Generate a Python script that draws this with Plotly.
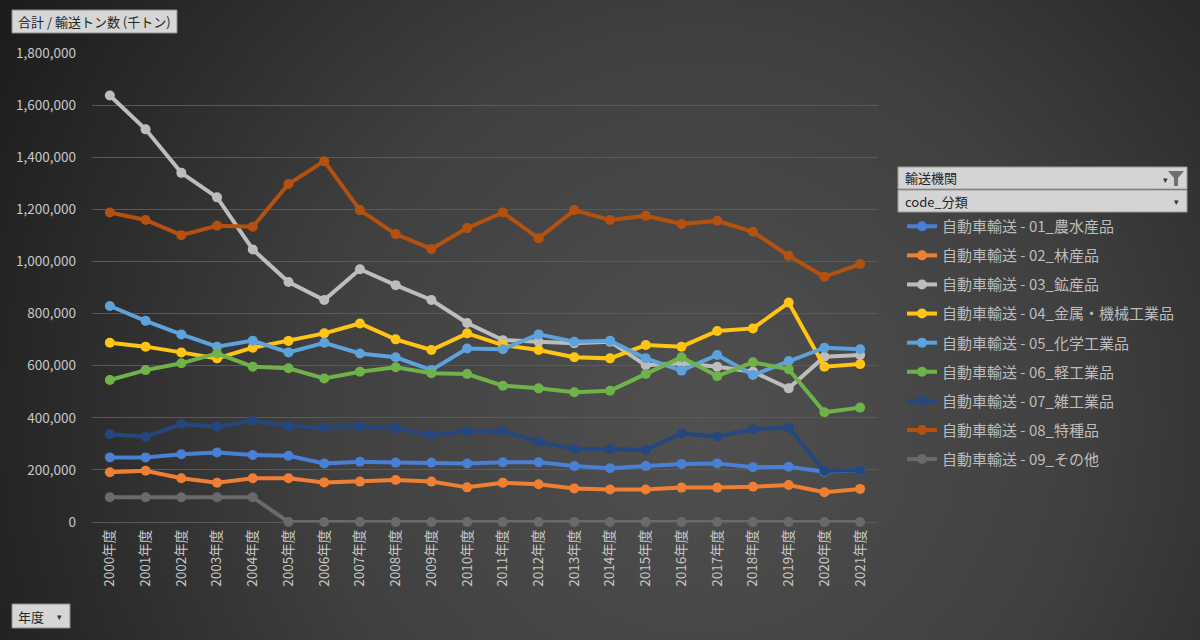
import base64
import plotly.graph_objects as go

# ---------------- data ----------------
years = ["2000年度", "2001年度", "2002年度", "2003年度", "2004年度", "2005年度",
         "2006年度", "2007年度", "2008年度", "2009年度", "2010年度", "2011年度",
         "2012年度", "2013年度", "2014年度", "2015年度", "2016年度", "2017年度",
         "2018年度", "2019年度", "2020年度", "2021年度"]

names = ["自動車輸送 - 01_農水産品", "自動車輸送 - 02_林産品", "自動車輸送 - 03_鉱産品",
         "自動車輸送 - 04_金属・機械工業品", "自動車輸送 - 05_化学工業品",
         "自動車輸送 - 06_軽工業品", "自動車輸送 - 07_雑工業品",
         "自動車輸送 - 08_特種品", "自動車輸送 - 09_その他"]

s01 = [248000, 248000, 260000, 267000, 257000, 254000, 225000, 231000, 228000, 228000, 225000,
       229000, 229000, 215000, 206000, 215000, 223000, 225000, 210000, 212000, 193000, 200000]
s02 = [191000, 197000, 168000, 151000, 168000, 168000, 152000, 155000, 161000, 155000, 133000,
       151000, 145000, 129000, 125000, 125000, 132000, 132000, 135000, 142000, 114000, 127000]
s03 = [1637000, 1507000, 1340000, 1246000, 1046000, 921000, 852000, 970000, 909000, 852000, 764000,
       698000, 692000, 686000, 692000, 602000, 609000, 596000, 577000, 513000, 634000, 641000]
s04 = [688000, 673000, 651000, 628000, 669000, 695000, 724000, 762000, 701000, 660000, 724000,
       679000, 660000, 632000, 628000, 679000, 673000, 733000, 743000, 842000, 596000, 606000]
s05 = [829000, 772000, 720000, 673000, 696000, 651000, 688000, 647000, 632000, 583000, 666000,
       663000, 720000, 692000, 696000, 628000, 581000, 641000, 564000, 618000, 669000, 663000]
s06 = [545000, 583000, 609000, 647000, 596000, 590000, 551000, 577000, 594000, 571000, 568000,
       523000, 513000, 498000, 504000, 568000, 632000, 560000, 613000, 586000, 421000, 439000]
s07 = [337000, 327000, 376000, 366000, 389000, 368000, 363000, 368000, 359000, 334000, 349000,
       349000, 308000, 280000, 280000, 276000, 340000, 327000, 356000, 362000, 196000, 200000]
s08 = [1188000, 1159000, 1101000, 1137000, 1133000, 1297000, 1385000, 1197000, 1105000, 1048000, 1128000,
       1188000, 1089000, 1197000, 1159000, 1175000, 1144000, 1156000, 1114000, 1022000, 941000, 990000]
s09 = [95000, 95000, 95000, 95000, 95000, 0, 0, 0, 0, 0, 0,
       0, 0, 0, 0, 0, 0, 0, 0, 0, 0, 0]

series = [s01, s02, s03, s04, s05, s06, s07, s08, s09]
colors = ["#4a7fd6", "#f07f34", "#bdbdbd", "#ffc414", "#5ea2dc",
          "#6fb24a", "#25477f", "#b5510f", "#6a6a6a"]

y_ticks = [0, 200000, 400000, 600000, 800000, 1000000, 1200000, 1400000, 1600000, 1800000]

W, H = 1200, 640
FONT = "Noto Sans CJK JP"


def px(x):
    return x / W


def py(y):
    return 1 - y / H


fig = go.Figure()
for i, (nm, vals, c) in enumerate(zip(names, series, colors)):
    fig.add_trace(go.Scatter(
        x=years, y=vals, name=nm, mode="lines+markers",
        line=dict(color=c, width=4),
        marker=dict(color=c, size=10),
        cliponaxis=False, legendgroup=f"g{i}",
    ))

# background gradient as svg image
svg = ('<svg xmlns="http://www.w3.org/2000/svg" width="1200" height="640">'
       '<defs><radialGradient id="g" cx="700" cy="420" r="850" gradientUnits="userSpaceOnUse">'
       '<stop offset="0" stop-color="#505050"/><stop offset="0.45" stop-color="#404040"/>'
       '<stop offset="1" stop-color="#181818"/></radialGradient></defs>'
       '<rect width="1200" height="640" fill="url(#g)"/></svg>')
src = "data:image/svg+xml;base64," + base64.b64encode(svg.encode()).decode()

shapes = []
annotations = []

# title box
shapes.append(dict(type="rect", xref="paper", yref="paper", x0=px(12), x1=px(177), y0=py(33), y1=py(10),
                   fillcolor="#d6d6d6", line=dict(color="#8c8c8c", width=1), layer="above"))
annotations.append(dict(text="合計 / 輸送トン数 (千トン)", xref="paper", yref="paper", x=px(16), y=py(21.5),
                        xanchor="left", yanchor="middle", showarrow=False,
                        font=dict(family=FONT, size=13, color="#262626")))

# filter boxes
shapes.append(dict(type="rect", xref="paper", yref="paper", x0=px(898), x1=px(1187), y0=py(189), y1=py(167),
                   fillcolor="#d4d4d4", line=dict(color="#9a9a9a", width=1), layer="above"))
shapes.append(dict(type="rect", xref="paper", yref="paper", x0=px(898), x1=px(1187), y0=py(212), y1=py(190),
                   fillcolor="#d4d4d4", line=dict(color="#9a9a9a", width=1), layer="above"))
annotations.append(dict(text="輸送機関", xref="paper", yref="paper", x=px(903), y=py(178),
                        xanchor="left", yanchor="middle", showarrow=False,
                        font=dict(family=FONT, size=13, color="#262626")))
annotations.append(dict(text="code_分類", xref="paper", yref="paper", x=px(903), y=py(201),
                        xanchor="left", yanchor="middle", showarrow=False,
                        font=dict(family=FONT, size=13, color="#262626")))
annotations.append(dict(text="▾", xref="paper", yref="paper", x=px(1165), y=py(179),
                        xanchor="center", yanchor="middle", showarrow=False,
                        font=dict(family=FONT, size=9, color="#333")))
annotations.append(dict(text="▾", xref="paper", yref="paper", x=px(1176), y=py(201),
                        xanchor="center", yanchor="middle", showarrow=False,
                        font=dict(family=FONT, size=9, color="#333")))
# funnel icon
shapes.append(dict(type="path", xref="paper", yref="paper",
                   path=(f"M {px(1168)} {py(171)} L {px(1184)} {py(171)} L {px(1178)} {py(178)} "
                         f"L {px(1178)} {py(186)} L {px(1174)} {py(186)} L {px(1174)} {py(178)} Z"),
                   fillcolor="#707070", line=dict(width=0), layer="above"))

# 年度 button
shapes.append(dict(type="rect", xref="paper", yref="paper", x0=px(12), x1=px(70), y0=py(628), y1=py(604),
                   fillcolor="#d6d6d6", line=dict(color="#8c8c8c", width=1), layer="above"))
annotations.append(dict(text="年度", xref="paper", yref="paper", x=px(16), y=py(616),
                        xanchor="left", yanchor="middle", showarrow=False,
                        font=dict(family=FONT, size=13, color="#262626")))
annotations.append(dict(text="▾", xref="paper", yref="paper", x=px(59), y=py(616),
                        xanchor="center", yanchor="middle", showarrow=False,
                        font=dict(family=FONT, size=9, color="#333")))

fig.update_layout(
    width=W, height=H, autosize=False,
    margin=dict(l=0, r=0, t=0, b=0, pad=0, autoexpand=False),
    paper_bgcolor="#2a2a2a", plot_bgcolor="rgba(0,0,0,0)",
    font=dict(family=FONT, color="#c8c8c8"),
    images=[dict(source=src, xref="paper", yref="paper", x=0, y=1, sizex=1, sizey=1,
                 sizing="stretch", xanchor="left", yanchor="top", layer="below")],
    xaxis=dict(domain=[px(92), px(878)], type="category", categoryorder="array", categoryarray=years,
               range=[-0.5, len(years) - 0.5], autorange=False, automargin=False,
               tickangle=-90, tickfont=dict(size=13.5, color="#c8c8c8", family=FONT),
               ticklabelstandoff=4,
               showgrid=False, showline=False, zeroline=False, ticks="", fixedrange=True),
    yaxis=dict(domain=[py(522), py(53)], range=[0, 1800000], autorange=False, automargin=False,
               tickvals=y_ticks, tickformat=",",
               tickfont=dict(size=13.5, color="#c8c8c8", family=FONT),
               gridcolor="#5a5a5a", gridwidth=1, zeroline=True, zerolinecolor="#5a5a5a", zerolinewidth=1,
               showline=False, ticks="", ticklabelstandoff=15, fixedrange=True),
    showlegend=True,
    legend=dict(x=px(902), y=py(210), xanchor="left", yanchor="top",
                font=dict(family=FONT, size=15, color="#bdbdbd"),
                bgcolor="rgba(0,0,0,0)", tracegroupgap=6.6, traceorder="grouped"),
    shapes=shapes, annotations=annotations,
)

fig.write_html("out.html", config={"responsive": False, "displayModeBar": False},
               post_script="document.body.style.margin='0';document.body.style.overflow='hidden';")
